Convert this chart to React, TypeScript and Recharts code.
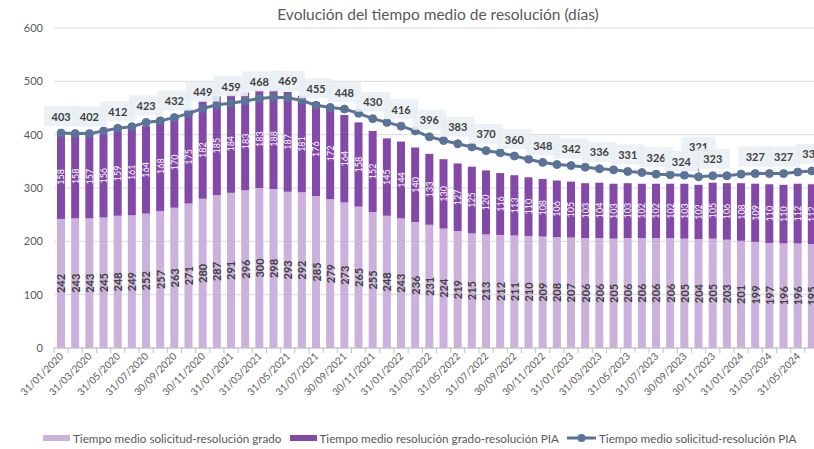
import { ComposedChart, Bar, Line, XAxis, YAxis, CartesianGrid, LabelList } from "recharts";

const fechas = [
  "31/01/2020", "29/02/2020", "31/03/2020", "30/04/2020", "31/05/2020", "30/06/2020",
  "31/07/2020", "31/08/2020", "30/09/2020", "31/10/2020", "30/11/2020", "31/12/2020",
  "31/01/2021", "28/02/2021", "31/03/2021", "30/04/2021", "31/05/2021", "30/06/2021",
  "31/07/2021", "31/08/2021", "30/09/2021", "31/10/2021", "30/11/2021", "31/12/2021",
  "31/01/2022", "28/02/2022", "31/03/2022", "30/04/2022", "31/05/2022", "30/06/2022",
  "31/07/2022", "31/08/2022", "30/09/2022", "31/10/2022", "30/11/2022", "31/12/2022",
  "31/01/2023", "28/02/2023", "31/03/2023", "30/04/2023", "31/05/2023", "30/06/2023",
  "31/07/2023", "31/08/2023", "30/09/2023", "31/10/2023", "30/11/2023", "31/12/2023",
  "31/01/2024", "29/02/2024", "31/03/2024", "30/04/2024", "31/05/2024", "30/06/2024",
];

// Tiempo medio solicitud-resolución grado
const tiempoGrado = [
  242, 243, 243, 245, 248, 249, 252, 257, 263, 271,
  280, 287, 291, 296, 300, 298, 293, 292, 285, 279,
  273, 265, 255, 248, 243, 236, 231, 224, 219, 215,
  213, 212, 211, 210, 209, 208, 207, 206, 206, 205,
  206, 206, 206, 206, 205, 204, 205, 203, 201, 199,
  197, 196, 196, 195,
];

// Tiempo medio resolución grado-resolución PIA
const tiempoPia = [
  158, 158, 157, 156, 159, 161, 164, 168, 170, 175,
  182, 185, 184, 183, 183, 188, 187, 181, 176, 172,
  164, 158, 152, 145, 144, 140, 133, 130, 127, 125,
  120, 116, 113, 110, 108, 106, 105, 103, 104, 103,
  103, 102, 102, 102, 103, 102, 105, 106, 108, 109,
  110, 110, 112, 112,
];

// Tiempo medio solicitud-resolución PIA
const tiempoTotal = [
  403, 402, 402, 407, 412, 415, 423, 426, 432, 440,
  449, 456, 459, 463, 468, 470, 469, 464, 455, 451,
  448, 440, 430, 423, 416, 407, 396, 389, 383, 377,
  370, 366, 360, 354, 348, 344, 342, 339, 336, 334,
  331, 329, 326, 325, 324, 321, 323, 323, 326, 327,
  327, 327, 330, 332,
];

// puntos de la línea que llevan etiqueta
const puntosEtiquetados = [
  0, 2, 4, 6, 8, 10, 12, 14, 16, 18, 20, 22, 24, 26, 28, 30, 32, 34, 36, 38,
  40, 42, 44, 45, 46, 49, 51, 53,
];

const yTicks = [0, 100, 200, 300, 400, 500, 600];

const colorGrado = "#CBB1DB";
const colorPia = "#8348A8";
const colorLinea = "#5A7399";
const fuente = "Lato, 'Open Sans', sans-serif";

const data = fechas.map((fecha, i) => ({
  fecha,
  grado: tiempoGrado[i],
  pia: tiempoPia[i],
  total: tiempoTotal[i],
}));

function FechaTick(props: any) {
  const { x, y, payload, index } = props;
  const half = payload?.offset ?? 7;
  const tx = x + 3;
  const ty = y + 9;
  return (
    <g>
      <line x1={x - half} x2={x - half} y1={y} y2={y + 5} stroke="#BFBFBF" />
      {index % 2 === 0 && (
        <text
          x={tx}
          y={ty}
          textAnchor="end"
          transform={`rotate(-45 ${tx} ${ty})`}
          fontSize={10}
          fill="#595959"
          fontFamily={fuente}
        >
          {payload.value}
        </text>
      )}
    </g>
  );
}

const etiquetaGrado = (p: any) => {
  const cx = p.x + p.width / 2;
  const cy = p.y + p.height / 2;
  return (
    <text
      x={cx}
      y={cy}
      transform={`rotate(-90 ${cx} ${cy})`}
      textAnchor="middle"
      dominantBaseline="central"
      fontSize={11}
      fontWeight={700}
      fill="#404040"
      fontFamily={fuente}
    >
      {tiempoGrado[p.index]}
    </text>
  );
};

const etiquetaPia = (p: any) => {
  const cx = p.x + p.width / 2;
  const cy = p.y + p.height / 2;
  return (
    <text
      x={cx}
      y={cy}
      transform={`rotate(-90 ${cx} ${cy})`}
      textAnchor="middle"
      dominantBaseline="central"
      fontSize={9}
      fill="#ffffff"
      fontFamily={fuente}
    >
      {tiempoPia[p.index]}
    </text>
  );
};

const etiquetaLinea = (p: any) => {
  const i = p.index;
  if (!puntosEtiquetados.includes(i)) return null;
  let dy = 17;
  let dx = 0;
  if (i === 44) { dy = 14; dx = -3; }
  if (i === 45) dy = 30;
  const cx = p.x + dx;
  const cy = p.y - dy;
  return (
    <g>
      {i === 45 && (
        <line x1={p.x} x2={p.x} y1={cy + 9} y2={p.y} stroke="#7F7F7F" strokeWidth={0.8} />
      )}
      <rect x={cx - 17} y={cy - 10} width={34} height={20} fill="#E9EFF3" fillOpacity={0.9} />
      <text
        x={cx}
        y={cy}
        textAnchor="middle"
        dominantBaseline="central"
        fontSize={11}
        fontWeight={700}
        fill="#404040"
        fontFamily={fuente}
      >
        {tiempoTotal[i]}
      </text>
    </g>
  );
};

export default function App() {
  return (
    <div
      style={{
        position: "absolute",
        left: 0,
        top: 0,
        width: 814,
        height: 449,
        overflow: "hidden",
        background: "#ffffff",
        fontFamily: fuente,
      }}
    >
      <div
        style={{
          position: "absolute",
          left: 0,
          top: 5,
          width: 876,
          textAlign: "center",
          fontSize: 15.5,
          color: "#595959",
        }}
      >
        Evolución del tiempo medio de resolución (días)
      </div>

      <ComposedChart
        width={830}
        height={449}
        data={data}
        margin={{ top: 28, right: 11, left: 14, bottom: 0 }}
        barSize={8}
      >
        <CartesianGrid vertical={false} stroke="#D9D9D9" />
        <XAxis
          dataKey="fecha"
          interval={0}
          height={101}
          tickLine={false}
          tickSize={0}
          tickMargin={0}
          axisLine={{ stroke: "#BFBFBF" }}
          tick={<FechaTick />}
        />
        <YAxis
          width={40}
          domain={[0, 600]}
          ticks={yTicks}
          axisLine={false}
          tickLine={false}
          tickMargin={5}
          tick={{ fill: "#595959", fontSize: 11, fontFamily: fuente }}
        />

        {/* barras apiladas */}
        <Bar dataKey="grado" stackId="a" fill={colorGrado} isAnimationActive={false}>
          <LabelList dataKey="grado" content={etiquetaGrado} />
        </Bar>
        <Bar dataKey="pia" stackId="a" fill={colorPia} isAnimationActive={false}>
          <LabelList dataKey="pia" content={etiquetaPia} />
        </Bar>

        {/* línea del tiempo total */}
        <Line
          type="linear"
          dataKey="total"
          stroke={colorLinea}
          strokeWidth={3}
          dot={{ r: 4, fill: colorLinea, stroke: colorLinea, strokeWidth: 1 }}
          activeDot={false}
          isAnimationActive={false}
        >
          <LabelList dataKey="total" content={etiquetaLinea} />
        </Line>
      </ComposedChart>

      {/* leyenda */}
      <div
        style={{
          position: "absolute",
          top: 431,
          left: 43,
          display: "flex",
          alignItems: "center",
          fontSize: 11.7,
          color: "#595959",
          whiteSpace: "nowrap",
        }}
      >
        <span style={{ display: "inline-block", width: 27, height: 6, background: colorGrado, marginRight: 3 }} />
        <span style={{ marginRight: 8 }}>Tiempo medio solicitud-resolución grado</span>
        <span style={{ display: "inline-block", width: 27, height: 6, background: colorPia, marginRight: 3 }} />
        <span style={{ marginRight: 8 }}>Tiempo medio resolución grado-resolución PIA</span>
        <svg width={29} height={10} style={{ marginRight: 3 }}>
          <line x1={0} x2={29} y1={5} y2={5} stroke={colorLinea} strokeWidth={3} />
          <circle cx={14.5} cy={5} r={4} fill={colorLinea} />
        </svg>
        <span>Tiempo medio solicitud-resolución PIA</span>
      </div>
    </div>
  );
}
